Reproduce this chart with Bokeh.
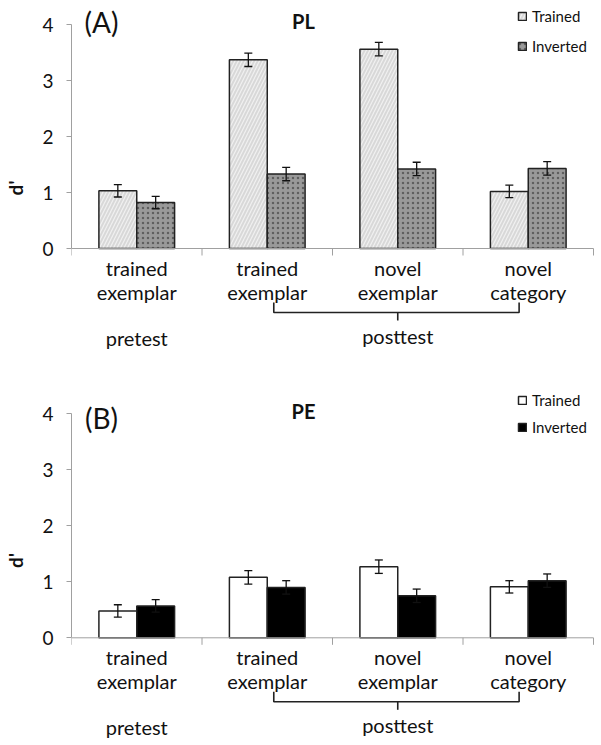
from bokeh.plotting import figure
from bokeh.models import (ColumnDataSource, Whisker, TeeHead, Legend, LegendItem,
                          Label, FixedTicker, Range1d)
from bokeh.layouts import column
from bokeh.embed import file_html
from bokeh.resources import INLINE
from bokeh.core.properties import value

# ---------------- data ----------------
categories = ["trained\nexemplar", "trained\nexemplar", "novel\nexemplar", "novel\ncategory"]
phases = ["pretest", "posttest", "posttest", "posttest"]
series = ["Trained", "Inverted"]

pl_trained = [1.03, 3.37, 3.56, 1.02]
pl_trained_err = [0.11, 0.12, 0.12, 0.11]
pl_inverted = [0.82, 1.33, 1.42, 1.43]
pl_inverted_err = [0.11, 0.12, 0.12, 0.12]

pe_trained = [0.48, 1.08, 1.27, 0.91]
pe_trained_err = [0.11, 0.12, 0.12, 0.11]
pe_inverted = [0.57, 0.90, 0.75, 1.02]
pe_inverted_err = [0.11, 0.12, 0.12, 0.12]

y_ticks = [0, 1, 2, 3, 4]

FONT = "Lato"
BAR_W = 0.29
PX = 56.0     # pixels per d' unit
CAT_PX = 130.5  # pixels per category
LEFT = 71
WIDTH = 601


def make_panel(letter, title, trained, terr, inverted, ierr, style_t, style_i,
               height, top_px, letter_dy, title_dy, legend_top_gap, legend_spacing):
    n = len(categories)
    y_top = 4 + top_px / PX
    y_bot = y_top - height / PX
    p = figure(width=WIDTH, height=height,
               x_range=Range1d(0, (WIDTH - LEFT) / CAT_PX),
               y_range=Range1d(y_bot, y_top), output_backend="svg",
               toolbar_location=None, x_axis_location=None,
               min_border_left=LEFT, min_border_right=0, min_border_top=0,
               min_border_bottom=0, outline_line_color=None,
               background_fill_color="white", border_fill_color="white")
    p.xgrid.visible = False
    p.ygrid.visible = False

    ax = p.yaxis[0]
    ax.bounds = (0, 4)
    ax.ticker = FixedTicker(ticks=y_ticks)
    ax.minor_tick_line_color = None
    ax.major_tick_in = 0
    ax.major_tick_out = 5
    ax.axis_line_color = "#a0a0a0"
    ax.major_tick_line_color = "#a0a0a0"
    ax.major_label_text_font = FONT
    ax.major_label_text_font_size = "19px"
    ax.major_label_text_color = "#111111"
    ax.major_label_standoff = 13
    ax.axis_label = "d'"
    ax.axis_label_text_font = FONT
    ax.axis_label_text_font_style = "bold"
    ax.axis_label_text_font_size = "19px"
    ax.axis_label_text_color = "#111111"
    ax.axis_label_standoff = 12

    centers = [i + 0.5 for i in range(n)]
    src_t = ColumnDataSource(dict(
        x=[c - BAR_W / 2 for c in centers], top=trained,
        upper=[v + e for v, e in zip(trained, terr)],
        lower=[v - e for v, e in zip(trained, terr)]))
    src_i = ColumnDataSource(dict(
        x=[c + BAR_W / 2 for c in centers], top=inverted,
        upper=[v + e for v, e in zip(inverted, ierr)],
        lower=[v - e for v, e in zip(inverted, ierr)]))

    r_t = p.vbar(x="x", top="top", bottom=0, width=BAR_W, source=src_t,
                 line_color="#222222", line_width=1.5, **style_t)
    r_i = p.vbar(x="x", top="top", bottom=0, width=BAR_W, source=src_i,
                 line_color="#222222", line_width=1.5, **style_i)

    for src, col in ((src_t, "#111111"), (src_i, "#111111" if style_i.get("fill_color") != "black" else "#111111")):
        w = Whisker(base="x", upper="upper", lower="lower", source=src,
                    line_color=col, line_width=1.3, level="annotation",
                    upper_head=TeeHead(size=8, line_color=col, line_width=1.3),
                    lower_head=TeeHead(size=8, line_color=col, line_width=1.3))
        p.add_layout(w)

    # category axis baseline with divider ticks
    p.segment(x0=[0], y0=[0], x1=[n], y1=[0], line_color="#a0a0a0", line_width=1)
    p.segment(x0=list(range(n + 1)), y0=[0] * (n + 1), x1=list(range(n + 1)),
              y1=[-7 / PX] * (n + 1), line_color="#a0a0a0", line_width=1)

    p.text(x=centers, y=[0] * n, text=categories, y_offset=31,
           text_align="center", text_baseline="middle", text_line_height=1.0,
           text_font=value(FONT), text_font_size="20px", text_color="#111111")

    # phase labels
    pre_idx = [i for i, ph in enumerate(phases) if ph == "pretest"]
    post_idx = [i for i, ph in enumerate(phases) if ph == "posttest"]
    pre_x = sum(centers[i] for i in pre_idx) / len(pre_idx)
    post_x = sum(centers[i] for i in post_idx) / len(post_idx)
    p.text(x=[pre_x, post_x], y=[0, 0], text=["pretest", "posttest"], y_offset=[89, 87],
           text_align="center", text_baseline="middle",
           text_font=value(FONT), text_font_size="20px", text_color="#111111")

    # brace under posttest group
    bl = centers[post_idx[0]] + 0.05
    br = centers[post_idx[-1]] - 0.07
    ytop_b, yh, ytip = -54 / PX, -64 / PX, -72 / PX
    p.line(x=[bl, bl, br, br], y=[ytop_b, yh, yh, ytop_b], line_color="#222222",
           line_width=1.6)
    p.line(x=[post_x, post_x], y=[yh, ytip], line_color="#222222", line_width=1.6)

    # panel letter and title
    p.add_layout(Label(x=30 / CAT_PX, y=4 + letter_dy / PX,
                       text=letter, text_align="center", text_baseline="middle",
                       text_font=FONT, text_font_size="28px", text_color="#111111"))
    p.add_layout(Label(x=232 / CAT_PX, y=4 + title_dy / PX,
                       text=title, text_align="center", text_baseline="middle",
                       text_font=FONT, text_font_size="20px", text_font_style="bold",
                       text_color="#111111"))

    legend_h = 20 * 2 + legend_spacing
    leg = Legend(items=[LegendItem(label=series[0], renderers=[r_t]),
                        LegendItem(label=series[1], renderers=[r_i])],
                 location=(517 - LEFT, height - legend_top_gap - legend_h),
                 glyph_width=10, glyph_height=10, label_standoff=5,
                 label_text_font=FONT, label_text_font_size="15px",
                 label_text_color="#111111", label_height=18,
                 spacing=legend_spacing, padding=0, margin=0,
                 border_line_alpha=0, background_fill_alpha=0)
    p.add_layout(leg)
    return p


style_pl_t = dict(fill_color="#d8d8d8", hatch_pattern="right_diagonal_line",
                  hatch_color="#f3f3f3", hatch_weight=1.2, hatch_scale=7, hatch_alpha=0.9)
style_pl_i = dict(fill_color="#999999", hatch_pattern="dot",
                  hatch_color="#505050", hatch_weight=1.6, hatch_scale=5, hatch_alpha=0.8)
style_pe_t = dict(fill_color="white")
style_pe_i = dict(fill_color="black")

p1 = make_panel("(A)", "PL", pl_trained, pl_trained_err, pl_inverted, pl_inverted_err,
                style_pl_t, style_pl_i, height=375, top_px=24, letter_dy=3, title_dy=4,
                legend_top_gap=3, legend_spacing=12)
p2 = make_panel("(B)", "PE", pe_trained, pe_trained_err, pe_inverted, pe_inverted_err,
                style_pe_t, style_pe_i, height=370, top_px=38.3, letter_dy=-4, title_dy=3,
                legend_top_gap=12, legend_spacing=9)

layout = column(p1, p2, spacing=0)
open("out.html", "w").write(file_html(layout, INLINE))
